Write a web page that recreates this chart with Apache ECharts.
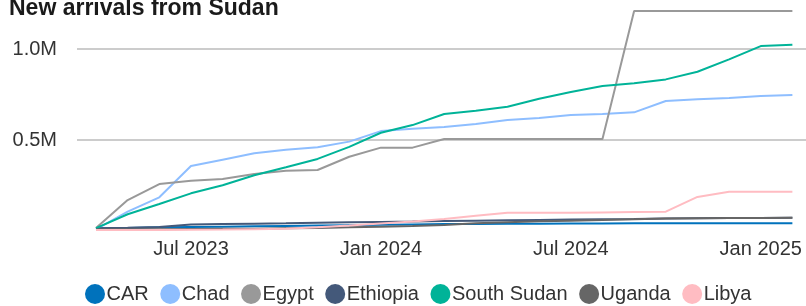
<!DOCTYPE html>
<html>
<head>
<meta charset="utf-8">
<script src="https://cdn.jsdelivr.net/npm/echarts@6/dist/echarts.min.js"></script>
<style>
  html, body { margin: 0; padding: 0; background: #fff; }
  #chart { width: 806px; height: 306px; }
</style>
</head>
<body>
<div id="chart"></div>
<script>
// monthly points, values in thousands
const dates = ['2023-04-01', '2023-05-01', '2023-06-01', '2023-07-01', '2023-08-01', '2023-09-01',
  '2023-10-01', '2023-11-01', '2023-12-01', '2024-01-01', '2024-02-01', '2024-03-01',
  '2024-04-01', '2024-05-01', '2024-06-01', '2024-07-01', '2024-08-01', '2024-09-01',
  '2024-10-01', '2024-11-01', '2024-12-01', '2025-01-01', '2025-02-01']
const tickDates = ['2023-07-01', '2024-01-01', '2024-07-01', '2025-01-01']
const yTicks = [500, 1000]

const car = [15, 17, 20, 22, 24, 26, 28, 30, 32, 34, 36, 38, 39, 40, 40, 41, 41, 42, 42, 42, 42, 43, 43]
const chad = [9, 106, 185, 357, 392, 427, 447, 460, 491, 549, 562, 571, 588, 610, 621, 637, 643, 652, 714, 724, 731, 742, 747]
const egypt = [16, 170, 258, 276, 286, 313, 331, 335, 408, 458, 458, 505, 505, 505, 505, 505, 505, 1209, 1209, 1209, 1209, 1209, 1209]
const ethiopia = [15, 18, 22, 36, 38, 40, 42, 45, 48, 50, 52, 55, 57, 59, 61, 63, 65, 66, 68, 70, 71, 72, 73]
const southSudan = [16, 92, 148, 207, 251, 306, 350, 396, 462, 540, 582, 643, 661, 683, 727, 764, 797, 812, 833, 875, 943, 1016, 1024]
const uganda = [8, 9, 10, 11, 12, 13, 15, 17, 20, 24, 28, 33, 42, 48, 53, 57, 60, 64, 68, 70, 71, 72, 73]
const libya = [5, 5, 6, 7, 8, 10, 12, 20, 30, 41, 52, 66, 84, 100, 100, 100, 102, 104, 106, 187, 216, 216, 216]

const font = "'Liberation Sans', Arial, sans-serif"
const months = ['Jan', 'Feb', 'Mar', 'Apr', 'May', 'Jun', 'Jul', 'Aug', 'Sep', 'Oct', 'Nov', 'Dec']

// x is the month position in dates[]
function pairs (vals) {
  return vals.map((v, i) => [i, v])
}

function monthLabel (i) {
  let d = dates[Math.round(i)]
  if (!d) return ''
  let p = d.split('-')
  return months[+p[1] - 1] + ' ' + p[0]
}

const seriesList = [
  { name: 'CAR', data: car, color: '#0072bc' },
  { name: 'Chad', data: chad, color: '#8ebeff' },
  { name: 'Egypt', data: egypt, color: '#999999' },
  { name: 'Ethiopia', data: ethiopia, color: '#44597a' },
  { name: 'South Sudan', data: southSudan, color: '#00b398' },
  { name: 'Uganda', data: uganda, color: '#666666' },
  { name: 'Libya', data: libya, color: '#ffbcc2' }
]

let chart = echarts.init(document.getElementById('chart'))
chart.setOption({
  animation: false,
  title: {
    text: 'New arrivals from Sudan',
    left: 4,
    top: -8,
    textStyle: { fontFamily: font, fontSize: 23, fontWeight: 'bold', color: '#1a1a1a' }
  },
  legend: {
    data: seriesList.map(s => s.name),
    icon: 'circle',
    itemWidth: 20,
    itemHeight: 20,
    itemGap: 11.5,
    left: 85,
    top: 284,
    padding: 0,
    textStyle: { fontFamily: font, fontSize: 20, color: '#333', padding: [0, 0, 0, -3.5] }
  },
  grid: { left: 77, right: 0, top: 3.5, bottom: 75 },
  xAxis: {
    type: 'value',
    min: -0.6,
    max: dates.length - 1 + 0.43,
    axisLine: { show: false },
    axisTick: { show: false },
    splitLine: { show: false },
    axisLabel: {
      customValues: tickDates.map(d => dates.indexOf(d)),
      margin: 8,
      fontFamily: font,
      fontSize: 20,
      color: '#333',
      formatter: monthLabel
    }
  },
  yAxis: {
    type: 'value',
    min: 0,
    max: 1250,
    interval: 500,
    axisLine: { show: false },
    axisTick: { show: false },
    splitLine: {
      lineStyle: { color: ['rgba(0,0,0,0)', '#cccccc', '#cccccc', 'rgba(0,0,0,0)'], width: 2 }
    },
    axisLabel: {
      margin: 20,
      fontFamily: font,
      fontSize: 20,
      color: '#333',
      formatter: function (v) {
        if (yTicks.indexOf(v) < 0) return ''
        return (v / 1000).toFixed(1) + 'M'
      }
    }
  },
  series: seriesList.map(s => ({
    name: s.name,
    type: 'line',
    data: pairs(s.data),
    showSymbol: false,
    symbol: 'circle',
    itemStyle: { color: s.color },
    lineStyle: { color: s.color, width: 2 }
  }))
})
</script>
</body>
</html>
